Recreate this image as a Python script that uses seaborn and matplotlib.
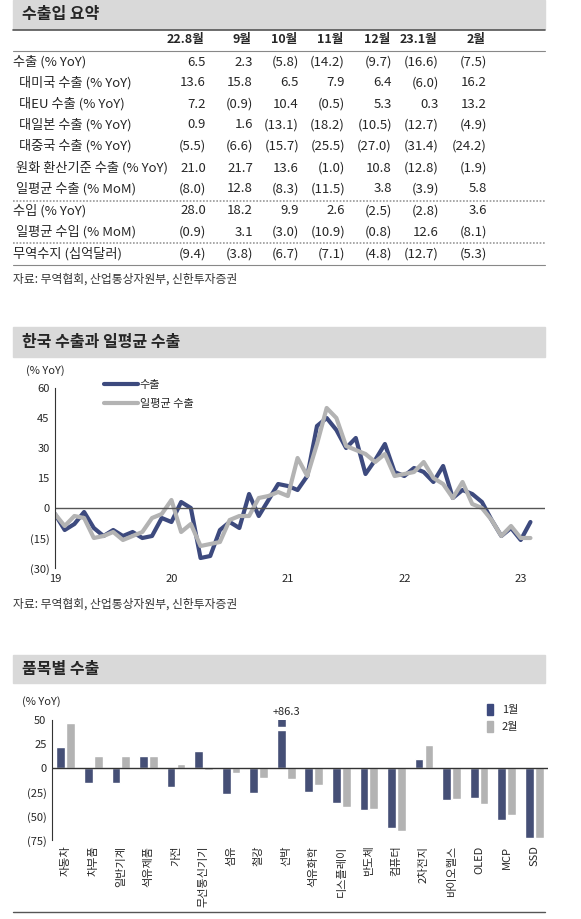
import numpy as np
import pandas as pd
import matplotlib
matplotlib.use("Agg")
import matplotlib.pyplot as plt
import matplotlib.patches as mpatches
import seaborn as sns

sns.set_style("white")
plt.rcParams['font.family'] = ['Noto Sans CJK KR', 'DejaVu Sans']
plt.rcParams['axes.unicode_minus'] = False

W, H = 581, 919

# ---- table data ----
months = ['22.8월', '9월', '10월', '11월', '12월', '23.1월', '2월']
row_labels = ['수출 (% YoY)', '  대미국 수출 (% YoY)', '  대EU 수출 (% YoY)', '  대일본 수출 (% YoY)',
              '  대중국 수출 (% YoY)', ' 원화 환산기준 수출 (% YoY)', ' 일평균 수출 (% MoM)',
              '수입 (% YoY)', ' 일평균 수입 (% MoM)', '무역수지 (십억달러)']
exports = [6.5, 2.3, -5.8, -14.2, -9.7, -16.6, -7.5]
exp_us = [13.6, 15.8, 6.5, 7.9, 6.4, -6.0, 16.2]
exp_eu = [7.2, -0.9, 10.4, -0.5, 5.3, 0.3, 13.2]
exp_jp = [0.9, 1.6, -13.1, -18.2, -10.5, -12.7, -4.9]
exp_cn = [-5.5, -6.6, -15.7, -25.5, -27.0, -31.4, -24.2]
exp_krw = [21.0, 21.7, 13.6, -1.0, 10.8, -12.8, -1.9]
exp_daily = [-8.0, 12.8, -8.3, -11.5, 3.8, -3.9, 5.8]
imports = [28.0, 18.2, 9.9, 2.6, -2.5, -2.8, 3.6]
imp_daily = [-0.9, 3.1, -3.0, -10.9, -0.8, 12.6, -8.1]
balance = [-9.4, -3.8, -6.7, -7.1, -4.8, -12.7, -5.3]
table_rows = [exports, exp_us, exp_eu, exp_jp, exp_cn, exp_krw, exp_daily, imports, imp_daily, balance]

# ---- line chart data (monthly, 2019.1 ~ 2023.2) ----
exp_yoy = [-3, -11, -8, -2, -10, -14, -11, -14, -12, -15, -14, -5,
           -7, 3, 0, -25, -24, -11, -7, -10, 7, -4, 4, 12,
           11, 9, 16, 41, 45, 39, 30, 35, 17, 24, 32, 18,
           16, 20, 18, 13, 21, 5, 9, 7, 3, -6, -14, -10,
           -16, -7]
daily_yoy = [-3, -9, -4, -5, -15, -14, -12, -16, -14, -12, -5, -3,
             4, -12, -8, -19, -18, -17, -6, -4, -4, 5, 6, 8,
             6, 25, 16, 32, 50, 45, 31, 29, 27, 23, 27, 16,
             17, 18, 23, 15, 12, 5, 13, 2, 0, -6, -14, -9,
             -15, -15]
year_labels = ['19', '20', '21', '22', '23']

# ---- bar chart data ----
items = ['자동차', '차부품', '일반기계', '석유제품', '가전', '무선통신기기', '섬유', '철강', '선박',
         '석유화학', '디스플레이', '반도체', '컴퓨터', '2차전지', '바이오헬스', 'OLED', 'MCP', 'SSD']
jan = [22, -16, -16, 12, -20, 18, -27, -26, 86.3, -25, -36, -44, -63, 9, -33, -31, -54, -73]
feb = [47, 13, 13, 12, 4, -2, -5, -10, -11, -18, -41, -43, -66, 24, -32, -38, -49, -73]

NAVY = '#3d4a7e'
GRAY = '#b3b3b3'

fig = plt.figure(figsize=(W / 100, H / 100), dpi=100)


def fx(x):
    return x / W


def fy(y):
    return 1 - y / H


def ax_rect(l, t, r, b):
    return [fx(l), fy(b), fx(r) - fx(l), (b - t) / H]


def title_bar(top, bot, text):
    fig.patches.append(mpatches.Rectangle((fx(13), fy(bot)), fx(545) - fx(13), (bot - top) / H,
                                          transform=fig.transFigure, color='#d9d9d9', zorder=0))
    fig.text(fx(22), fy((top + bot) / 2), text, fontsize=11.5, fontweight='bold', va='center')


def hline(y, x0=13, x1=545, **kw):
    fig.add_artist(plt.Line2D([fx(x0), fx(x1)], [fy(y), fy(y)], transform=fig.transFigure, **kw))


def fmt(v):
    return f'({abs(v):.1f})' if v < 0 else f'{v:.1f}'


# ---- table ----
title_bar(0, 29, '수출입 요약')
hline(29.5, color='#555555', lw=1.2)
col_right = [204, 251, 297, 343, 390, 437, 485]
for m, xr in zip(months, col_right):
    fig.text(fx(xr), fy(40), m, fontsize=9, fontweight='bold', ha='right', va='center')
hline(51, color='#888888', lw=0.8)
row_y = [62, 83, 104, 125, 146, 168, 189, 211, 232, 254]
for lab, vals, yy in zip(row_labels, table_rows, row_y):
    fig.text(fx(13), fy(yy), lab, fontsize=9.5, va='center')
    for v, xr in zip(vals, col_right):
        fig.text(fx(xr + 2), fy(yy), fmt(v), fontsize=9.5, ha='right', va='center')
hline(201, color='#999999', lw=1.2, ls=(0, (1, 1)))
hline(243, color='#999999', lw=1.2, ls=(0, (1, 1)))
hline(265, color='#888888', lw=0.8)
fig.text(fx(13), fy(279), '자료: 무역협회, 산업통상자원부, 신한투자증권', fontsize=8.5, va='center', color='#333333')

# ---- line chart ----
title_bar(327, 357, '한국 수출과 일평균 수출')
ax1 = fig.add_axes(ax_rect(55, 388, 545, 568))
df_line = pd.DataFrame({'month': np.arange(len(exp_yoy)), '수출': exp_yoy, '일평균 수출': daily_yoy})
df_line = df_line.melt('month', var_name='series', value_name='yoy')
sns.lineplot(data=df_line, x='month', y='yoy', hue='series',
             palette={'수출': NAVY, '일평균 수출': GRAY},
             hue_order=['수출', '일평균 수출'], lw=3, ax=ax1, legend=False)
ax1.set_xlim(0, 50.5)
ax1.set_ylim(-30, 60)
ax1.set_yticks([-30, -15, 0, 15, 30, 45, 60])
ax1.set_yticklabels(['(30)', '(15)', '0', '15', '30', '45', '60'], fontsize=8)
ax1.set_xticks([0, 12, 24, 36, 48])
ax1.set_xticklabels(year_labels, fontsize=8)
ax1.axhline(0, color='#555555', lw=1)
ax1.set_xlabel('')
ax1.set_ylabel('')
for s in ['top', 'right', 'bottom']:
    ax1.spines[s].set_visible(False)
ax1.spines['left'].set_color('#333333')
ax1.tick_params(length=0, pad=4)
ax1.text(-0.06, 1.08, '(% YoY)', transform=ax1.transAxes, fontsize=8)
ax1.legend(handles=[plt.Line2D([], [], color=NAVY, lw=3), plt.Line2D([], [], color=GRAY, lw=3)],
           labels=['수출', '일평균 수출'], loc='upper left', bbox_to_anchor=(0.08, 1.1),
           frameon=False, fontsize=8, handlelength=3, handletextpad=0.2, labelspacing=0.8)
fig.text(fx(13), fy(604), '자료: 무역협회, 산업통상자원부, 신한투자증권', fontsize=8.5, va='center', color='#333333')

# ---- bar chart ----
title_bar(655, 683, '품목별 수출')
ax2 = fig.add_axes(ax_rect(52, 720, 548, 840))
df_bar = pd.DataFrame({'item': items * 2, 'month': ['1월'] * len(items) + ['2월'] * len(items),
                       'yoy': jan + feb})
sns.barplot(data=df_bar, x='item', y='yoy', hue='month', palette=[NAVY, GRAY], width=0.72,
            gap=0.12, ax=ax2, legend=False)
ax2.set_ylim(-75, 50)
ax2.set_yticks([-75, -50, -25, 0, 25, 50])
ax2.set_yticklabels(['(75)', '(50)', '(25)', '0', '25', '50'], fontsize=8)
ax2.set_xlabel('')
ax2.set_ylabel('')
ax2.set_xticks(range(len(items)))
ax2.set_xticklabels(items, rotation=90, fontsize=8)
ax2.axhline(0, color='#333333', lw=1)
for s in ['top', 'right', 'bottom']:
    ax2.spines[s].set_visible(False)
ax2.spines['left'].set_color('#333333')
ax2.tick_params(length=0, pad=4)
# axis break on the clipped 선박 bar
k = items.index('선박')
ax2.add_patch(mpatches.Rectangle((k - 0.4, 40), 0.42, 3, color='white', zorder=5))
ax2.text(k, 53, f'+{jan[k]:.1f}', ha='center', va='bottom', fontsize=8)
ax2.text(-0.06, 1.13, '(% YoY)', transform=ax2.transAxes, fontsize=8)
ax2.legend(handles=[mpatches.Patch(color=NAVY), mpatches.Patch(color=GRAY)], labels=['1월', '2월'],
           loc='upper right', bbox_to_anchor=(0.96, 1.22), frameon=False, fontsize=8,
           handlelength=0.5, handleheight=1.2, labelspacing=0.5)
hline(912, color='#555555', lw=1)

fig.savefig('out.png', dpi=100)
